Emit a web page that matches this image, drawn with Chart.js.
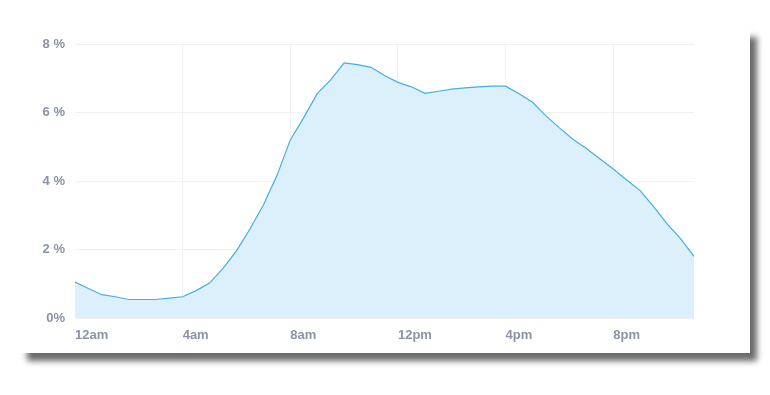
<!DOCTYPE html>
<html>
<head>
<meta charset="utf-8">
<script src="https://cdn.jsdelivr.net/npm/chart.js@4.4.1/dist/chart.umd.min.js"></script>
<style>
  html, body { margin: 0; padding: 0; background: #fff; }
  body { width: 770px; height: 395px; position: relative; overflow: hidden; }
  #card {
    position: absolute; left: 20px; top: 29px; width: 730px; height: 324px;
    background: #fff;
    box-shadow: 7px 8px 6px rgba(0, 0, 0, 0.58);
  }
  #card canvas { position: absolute; left: 0; top: 0; }
</style>
</head>
<body>
<div id="card"><canvas id="traffic" width="730" height="324"></canvas></div>
<script>
// hour of day (0 = midnight), one reading every half hour
var hours = [];
for (var i = 0; i <= 46; i++) hours.push(i / 2);

// share of daily visits, percent
var share = [
  1.05, 0.86, 0.68, 0.62, 0.54, 0.54, 0.54, 0.58, 0.62, 0.80,
  1.02, 1.45, 1.96, 2.60, 3.30, 4.15, 5.20, 5.85, 6.55, 6.95,
  7.45, 7.40, 7.32, 7.08, 6.88, 6.75, 6.56, 6.62, 6.68, 6.72,
  6.75, 6.77, 6.77, 6.55, 6.30, 5.90, 5.55, 5.22, 4.95, 4.65,
  4.35, 4.03, 3.72, 3.25, 2.75, 2.32, 1.80
];

var xTickHours = [0, 4, 8, 12, 16, 20];
var xTickLabels = ['12am', '4am', '8am', '12pm', '4pm', '8pm'];
var yTickValues = [0, 2, 4, 6, 8];
var yTickLabels = ['0%', '2 %', '4 %', '6 %', '8 %'];

var points = hours.map(function (h, i) { return { x: h, y: share[i] }; });

var tickFont = { family: 'Liberation Sans, Arial, sans-serif', size: 13, weight: 'bold' };
var tickColor = '#8b93a6';
var gridColor = '#eff1f4';

var ctx = document.getElementById('traffic').getContext('2d');
var chart = new Chart(ctx, {
  type: 'line',
  data: {
    datasets: [{
      data: points,
      borderColor: '#45aee6',
      borderWidth: 1.2,
      backgroundColor: '#dbf0fb',
      fill: 'origin',
      pointRadius: 0,
      tension: 0
    }]
  },
  options: {
    responsive: false,
    animation: false,
    events: [],
    layout: { padding: { top: 15, right: 56, left: 0, bottom: 0 } },
    plugins: { legend: { display: false }, tooltip: { enabled: false } },
    scales: {
      x: {
        type: 'linear',
        min: 0,
        max: 23,
        afterBuildTicks: function (scale) {
          scale.ticks = xTickHours.map(function (v) { return { value: v }; });
        },
        afterFit: function (scale) { scale.height = 35; },
        border: { display: false },
        grid: {
          color: function (c) { return c.index === 0 ? 'rgba(0,0,0,0)' : gridColor; },
          drawTicks: false
        },
        ticks: {
          align: 'start',
          padding: 10,
          maxRotation: 0,
          font: tickFont,
          color: tickColor,
          callback: function (v) {
            var k = xTickHours.indexOf(v);
            return k < 0 ? '' : xTickLabels[k];
          }
        }
      },
      y: {
        min: 0,
        max: 8,
        afterBuildTicks: function (scale) {
          scale.ticks = yTickValues.map(function (v) { return { value: v }; });
        },
        afterFit: function (scale) {
          scale.width = 55;
          scale.paddingTop = 0;
          scale.paddingBottom = 0;
        },
        border: { display: false },
        grid: { color: gridColor, drawTicks: false },
        ticks: {
          padding: 10,
          font: tickFont,
          color: tickColor,
          callback: function (v) {
            var k = yTickValues.indexOf(v);
            return k < 0 ? '' : yTickLabels[k];
          }
        }
      }
    }
  }
});
</script>
</body>
</html>
